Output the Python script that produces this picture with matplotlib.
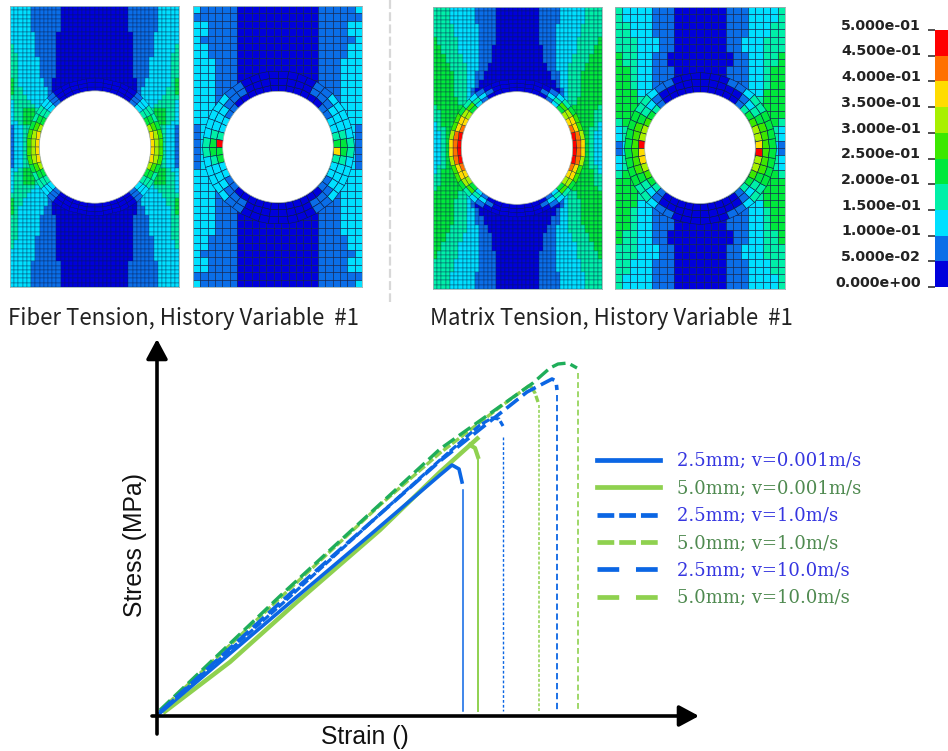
import numpy as np
import matplotlib
matplotlib.use("Agg")
import matplotlib.pyplot as plt
from matplotlib.colors import ListedColormap, Normalize
from matplotlib.lines import Line2D
from matplotlib.patches import Circle
from matplotlib.transforms import ScaledTranslation

W, H = 948, 751

# --- contour levels, 0 = lowest band, 9 = highest band ---
band_colors = ["#0000dc", "#0a6ee8", "#00e0ff", "#00f0a8", "#00e83c",
               "#3ce800", "#a8f000", "#ffdc00", "#ff7000", "#ff0000"]
cbar_values = [0.0, 0.05, 0.1, 0.15, 0.2, 0.25, 0.3, 0.35, 0.4, 0.45, 0.5]
cbar_labels = ["0.000e+00", "5.000e-02", "1.000e-01", "1.500e-01", "2.000e-01", "2.500e-01",
               "3.000e-01", "3.500e-01", "4.000e-01", "4.500e-01", "5.000e-01"]

# upper left quarter of each mesh
fiber_fine = [
    "22222111111100000000", "22222111111100000000", "22222111111100000000",
    "22222111111100000000", "22222111111100000000", "22222111111100000000",
    "22222211111000000000", "22222211111000000000", "22222211111000000000",
    "32222211111000000000", "32222211111000000000", "33222211111000000000",
    "33222221111000000000", "33222221111000000000", "33222221111000000000",
    "33222221111000000000", "33222221111000000000", "43222222110000000000",
    "43222222110000000000", "43322222210000000000", "43322222210000000000",
    "33332222210000000000", "23333222210000000000", "23333322210000000000",
    "23344432220000000000", "23344433220000000000", "23344443320000000000",
    "22344444330000000000", "12233455440000000000", "12233455540000000000",
    "12233455650000000000", "12233455660000000000", "12233455660000000000",
]
fiber_coarse = [
    "211111000000", "111111000000", "221111000000", "221111000000", "211111000000",
    "221111000000", "221111000000", "222111000000", "222111000000", "222111000000",
    "222111000000", "222111000000", "222111000000", "222111100000", "222222110000",
    "222222210000", "122223330000", "122223330000", "122223330000",
]
matrix_fine = [
    "33332222221111100000", "33332222221111100000", "33332222221111100000",
    "33332222221111100000", "33333222222111100000", "33333222222111100000",
    "33333222222111100000", "43333322222111100000", "43333322222111100000",
    "44333322222111000000", "44333322222111000000", "44433332222111000000",
    "44433332222111000000", "44443333222110000000", "44443333222110000000",
    "44444333221100000000", "44444333221100000000", "44444333221000000000",
    "44444333221000000000", "44444333210000000000", "44444333210000000000",
    "44444433210000000000", "44444433210000000000", "34444443320000000000",
    "33444444330000000000", "33444455440000000000", "33444455660000000000",
    "23444456660000000000", "23344456670000000000", "22344456770000000000",
    "22344456770000000000", "22344456770000000000", "22344456770000000000",
]
matrix_coarse = [
    "322221110000", "322221110000", "332221110000", "332221110000", "333222110000",
    "333222110000", "433221100000", "433221100000", "443221110000", "443221110000",
    "443221110000", "444221110000", "444321110000", "444433321000", "444443332000",
    "344444330000", "234444444000", "234444455000", "123444556000",
]

# elements around the hole: inner to outer layer, one character per 7.5 deg
fiber_fine_ring = ["776432100000", "665432100000", "554332100000"]
matrix_fine_ring = ["998764210000", "887765321000", "765543210000"]
fiber_coarse_ring = [
    "432211000000" + "000000112239" + "442211000000" + "000000112237",
    "432221110000" + "000011122234" + "432221110000" + "000011122234",
    "322222110000" + "000011222223" + "322222110000" + "000011222223",
]
matrix_coarse_ring = [
    "766543100000" + "000001345669" + "776543100000" + "000001345669",
    "555432100000" + "000001234555" + "555432100000" + "000001234555",
    "444433211000" + "000112334444" + "444433211000" + "000112334444",
]

captions = ["Fiber Tension, History Variable  #1", "Matrix Tension, History Variable  #1"]

# --- stress-strain curves, arbitrary units ---
labels = ["2.5mm; v=0.001m/s", "5.0mm; v=0.001m/s", "2.5mm; v=1.0m/s",
          "5.0mm; v=1.0m/s", "2.5mm; v=10.0m/s", "5.0mm; v=10.0m/s"]

strain_25_slow = [0.03, 1.36, 2.13, 2.83, 2.95, 3.02, 3.05]
stress_25_slow = [0.03, 1.16, 1.81, 2.41, 2.51, 2.47, 2.34]
strain_50_slow = [0.06, 0.73, 1.40, 2.23, 2.83, 3.22]
stress_50_slow = [0.03, 0.54, 1.14, 1.86, 2.44, 2.79]
strain_50_slow_fall = [3.13, 3.18, 3.21]
stress_50_slow_fall = [2.71, 2.68, 2.59]
strain_25_mid = [0.03, 1.26, 2.23, 2.83, 3.23, 3.35, 3.42, 3.46]
stress_25_mid = [0.04, 1.13, 2.02, 2.56, 2.91, 2.98, 2.97, 2.90]
strain_50_mid = [0.03, 1.23, 2.23, 2.83, 3.43, 3.73, 3.78, 3.81]
stress_50_mid = [0.05, 1.18, 2.11, 2.63, 3.09, 3.31, 3.23, 3.14]
strain_25_fast = [0.03, 1.26, 2.83, 3.70, 3.95, 3.99, 4.00]
stress_25_fast = [0.04, 1.16, 2.55, 3.24, 3.37, 3.35, 3.26]
strain_50_fast = [0.03, 1.23, 2.83, 3.76, 3.85, 3.93, 4.01, 4.11, 4.20]
stress_50_fast = [0.06, 1.20, 2.67, 3.33, 3.41, 3.48, 3.52, 3.53, 3.48]

# failure drops: strain, stress at top of the drop, stress at the bottom
drop_strain = [3.06, 3.205, 3.46, 3.82, 4.00, 4.21]
drop_top = [2.26, 2.56, 2.79, 3.11, 3.21, 3.43]
drop_bottom = [0.05, 0.05, 0.05, 0.05, 0.05, 0.05]

BLUE = "#0b66e4"
GREEN = "#8fd14f"
DARK_GREEN = "#1fae5a"
SHORT = (0, (2.6, 0.7))
LONG = (0, (4.2, 1.6))
GRID = "#0c1c48"


def px_axes(x0, y0, x1, y1):
    return fig.add_axes([x0 / W, 1 - y1 / H, (x1 - x0) / W, (y1 - y0) / H])


def unfold(rows, ncols):
    if ncols % 2:
        full = [r + r[-2::-1] for r in rows]
    else:
        full = [r + r[::-1] for r in rows]
    return np.array([[int(c) for c in r] for r in full + full[::-1]])


def mirror_ring(q):
    return q + q[::-1] + q + q[::-1]


def draw_panel(box, quarter, ncols, rings, hole_px, center_px, lw):
    ax = px_axes(*box)
    levels = unfold(quarter, ncols)
    nrows = levels.shape[0]
    ax.pcolormesh(levels, cmap=cmap, norm=norm, edgecolors=GRID, linewidth=lw, antialiased=True)
    ax.set_xlim(0, ncols)
    ax.set_ylim(nrows, 0)
    ax.set_xticks([])
    ax.set_yticks([])
    for s in ax.spines.values():
        s.set_color("#9fb4b4")
        s.set_linewidth(0.6)

    cell = (box[2] - box[0]) / ncols
    cx = (center_px[0] - box[0]) / cell
    cy = (center_px[1] - box[1]) / ((box[3] - box[1]) / nrows)
    r0 = hole_px / cell
    step = (4.2 if ncols > 30 else 6.8) / cell
    radii = r0 + step * np.arange(len(rings) + 1)
    theta = np.radians(np.arange(0, 367.5, 7.5))
    rr, tt = np.meshgrid(radii, theta, indexing="ij")
    vals = np.array([[int(c) for c in r] for r in rings])
    ax.pcolormesh(cx + rr * np.cos(tt), cy - rr * np.sin(tt), vals, cmap=cmap, norm=norm,
                  edgecolors=GRID, linewidth=lw, antialiased=True)
    ax.add_patch(Circle((cx, cy), r0, facecolor="white", edgecolor="#a9b5a9", linewidth=0.5, zorder=5))
    return ax


fig = plt.figure(figsize=(W / 100, H / 100), dpi=100)
cmap = ListedColormap(band_colors)
norm = Normalize(-0.5, 9.5)

draw_panel((10, 6, 179, 287), fiber_fine, 40, [mirror_ring(r) for r in fiber_fine_ring], 55.7, (95, 147), 0.22)
draw_panel((193, 6, 362, 287), fiber_coarse, 23, fiber_coarse_ring, 55.3, (278, 147), 0.4)
draw_panel((433, 7, 602, 289), matrix_fine, 40, [mirror_ring(r) for r in matrix_fine_ring], 55.7, (517, 148), 0.22)
draw_panel((615, 7, 785, 289), matrix_coarse, 23, matrix_coarse_ring, 55.3, (700, 148), 0.4)

cap_font = ["Noto Sans CJK JP", "DejaVu Sans"]
fig.text(8 / W, 1 - 319 / H, captions[0], family=cap_font, fontsize=16, va="center", color="#222222")
fig.text(430 / W, 1 - 319 / H, captions[1], family=cap_font, fontsize=16, va="center", color="#222222")

fig.add_artist(Line2D([390 / W, 390 / W], [1 - 0 / H, 1 - 302 / H], color="#d8d8d8", lw=1.6, ls=(0, (4, 1.5))))

# contour legend
cax = px_axes(935, 30, 948, 287)
cax.pcolormesh([0, 1], cbar_values, np.arange(10)[:, None], cmap=cmap, norm=norm)
cax.set_xticks([])
cax.set_ylim(0, 0.5)
cax.set_yticks(cbar_values)
cax.set_yticklabels(cbar_labels, fontsize=10.3, fontweight="bold", color="#222222")
cax.tick_params(axis="y", length=5, width=1.1, pad=5, color="#222222")
for t in cax.get_yticklabels():
    t.set_verticalalignment("bottom")
    t.set_transform(t.get_transform() + ScaledTranslation(0, -2 / 72, fig.dpi_scale_trans))
for s in cax.spines.values():
    s.set_visible(False)

# stress-strain chart, origin at the axes crossing
ax = px_axes(100, 335, 750, 751)
ax.set_xlim(-0.57, 5.93)
ax.set_ylim(-0.35, 3.81)
ax.axis("off")

ax.plot(strain_50_slow, stress_50_slow, color=GREEN, lw=3.2, solid_capstyle="butt")
ax.plot(strain_50_slow_fall, stress_50_slow_fall, color=GREEN, lw=3.0)
ax.plot(strain_25_slow, stress_25_slow, color=BLUE, lw=2.6)
ax.plot(strain_50_mid, stress_50_mid, color=GREEN, lw=2.4, ls=SHORT)
ax.plot(strain_50_fast, stress_50_fast, color=DARK_GREEN, lw=2.4, ls=LONG)
ax.plot(strain_25_mid, stress_25_mid, color=BLUE, lw=2.3, ls=SHORT)
ax.plot(strain_25_fast, stress_25_fast, color=BLUE, lw=2.6, ls=LONG)

drop_colors = [BLUE, GREEN, BLUE, GREEN, BLUE, GREEN]
drop_styles = ["-", "-", (0, (2, 1.5)), (0, (2, 1.2)), (0, (3.5, 2)), (0, (3.5, 2))]
drop_widths = [1.1, 1.4, 1.0, 1.1, 1.3, 1.2]
for i in range(len(drop_strain)):
    ax.plot([drop_strain[i]] * 2, [drop_top[i], drop_bottom[i]], color=drop_colors[i],
            ls=drop_styles[i], lw=drop_widths[i])

arrow = dict(arrowstyle="-|>,head_width=0.43,head_length=0.8", color="black", lw=2.6,
             shrinkA=0, shrinkB=0, mutation_scale=15)
ax.annotate("", xy=(5.42, 0.0), xytext=(-0.05, 0.0), arrowprops=arrow)
ax.annotate("", xy=(0.0, 3.77), xytext=(0.0, -0.18), arrowprops=arrow)

ax.text(-0.22, 1.71, "Stress (MPa)", rotation=90, family="Liberation Sans", fontsize=17.8,
        ha="center", va="center", color="#111111")
ax.text(2.08, -0.21, "Strain ()", family="Liberation Sans", fontsize=17.8,
        ha="center", va="center", color="#111111")

# legend
styles = ["-", "-", (0, (3.55, 1.05)), (0, (3.55, 1.05)), (0, (4.6, 3.55)), (0, (4.6, 3.55))]
colors = [BLUE, GREEN] * 3
handles = [Line2D([], [], color=colors[i], lw=3.4, ls=styles[i]) for i in range(6)]
text_colors = ["#3636e0", "#4f8a50"] * 3
leg = fig.legend(handles, labels, loc="upper left", bbox_to_anchor=(590 / W, 1 - 445 / H),
                 frameon=False, prop={"family": "DejaVu Serif", "size": 13},
                 labelcolor=text_colors, handlelength=3.5, handletextpad=0.9,
                 labelspacing=0.52, borderpad=0.4, borderaxespad=0)

fig.savefig("out.png", dpi=100)
